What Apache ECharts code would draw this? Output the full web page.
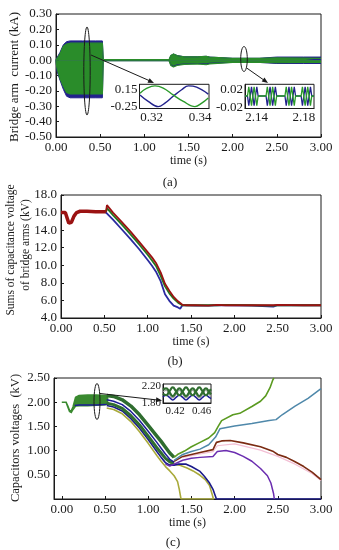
<!DOCTYPE html>
<html><head><meta charset="utf-8">
<script src="https://cdn.jsdelivr.net/npm/echarts@6/dist/echarts.min.js"></script>
<style>html,body{margin:0;padding:0;background:#fff}#c{width:339px;height:550px}</style>
</head><body><div id="c"></div>
<script>
// ---------- Panel (a): bridge arm current envelopes ----------
const aTime      = [0, 0.01, 0.045, 0.083, 0.12, 0.16, 0.3, 0.45, 0.525, 0.535, 1.28, 1.3, 1.33, 1.37, 1.45, 1.6, 1.7, 1.72, 1.74, 1.76, 2.0, 2.3, 2.5, 2.8, 3.0];
const aGreenTop  = [0, 0.01, 0.04, 0.09, 0.105, 0.11, 0.11, 0.11, 0.11, 0.004, 0.004, 0.03, 0.04, 0.03, 0.022, 0.022, 0.025, 0.035, 0.02, 0.012, 0.012, 0.012, 0.014, 0.013, 0.012];
const aGreenBot  = [0, -0.05, -0.12, -0.17, -0.21, -0.22, -0.22, -0.22, -0.22, -0.004, -0.004, -0.035, -0.045, -0.035, -0.028, -0.025, -0.03, -0.04, -0.025, -0.015, -0.015, -0.015, -0.017, -0.015, -0.015];
const aBlueTop   = [0, 0.015, 0.05, 0.10, 0.12, 0.125, 0.125, 0.125, 0.125, 0.004, 0.004, 0.03, 0.04, 0.03, 0.022, 0.022, 0.025, 0.03, 0.02, 0.012, 0.012, 0.012, 0.02, 0.02, 0.02];
const aBlueBot   = [0, -0.07, -0.13, -0.19, -0.235, -0.245, -0.245, -0.245, -0.245, -0.004, -0.004, -0.03, -0.04, -0.03, -0.025, -0.022, -0.025, -0.03, -0.02, -0.015, -0.015, -0.015, -0.022, -0.022, -0.022];
const aXTicks    = [0, 0.5, 1, 1.5, 2, 2.5, 3];

// inset 1 of (a)
const a1GreenT = [0.3152, 0.3179, 0.3214, 0.3248, 0.3289, 0.3331, 0.3379, 0.3407, 0.3434];
const a1GreenV = [0.06, 0.17, 0.23, 0.18, 0.02, -0.13, -0.25, -0.17, -0.05];
const a1BlueT  = [0.3152, 0.3186, 0.3227, 0.3255, 0.3289, 0.3324, 0.3352, 0.3386, 0.3434];
const a1BlueV  = [0.02, -0.13, -0.25, -0.17, -0.01, 0.14, 0.23, 0.20, 0.04];
const a1XLabels = [0.32, 0.34];
const a1YLabels = [0.15, -0.25];

// inset 2 of (a)
const a2T = [2.1301,
  2.1322, 2.1333, 2.1356, 2.1378, 2.1401, 2.1412,
  2.1479, 2.1490, 2.1513, 2.1535, 2.1558, 2.1569,
  2.1639, 2.1650, 2.1673, 2.1695, 2.1718, 2.1729,
  2.1776, 2.1787, 2.1810, 2.1832, 2.1855, 2.1866,
  2.1885];
const a2GreenV = [0.0056,
  0.0056, 0.026, -0.016, 0.026, -0.016, 0.0056,
  0.0056, 0.026, -0.016, 0.026, -0.016, 0.0056,
  0.0056, 0.026, -0.016, 0.026, -0.016, 0.0056,
  0.0056, 0.026, -0.016, 0.026, -0.016, 0.0056,
  0.0056];
const a2BlueV = [0.0056,
  0.0056, -0.016, 0.026, -0.016, 0.026, 0.0056,
  0.0056, -0.016, 0.026, -0.016, 0.026, 0.0056,
  0.0056, -0.016, 0.026, -0.016, 0.026, 0.0056,
  0.0056, -0.016, 0.026, -0.016, 0.026, 0.0056,
  0.0056];
const a2XLabels = [2.14, 2.18];
const a2YLabels = [0.02, -0.02];

// ---------- Panel (b): sums of capacitor voltages ----------
const bEarlyT = [0, 0.05, 0.07, 0.09, 0.1, 0.12, 0.15, 0.18, 0.22, 0.3, 0.4, 0.5, 0.53];
const bEarlyV = [16.0, 16.0, 15.4, 14.8, 14.7, 14.9, 15.6, 16.0, 16.15, 16.15, 16.1, 16.1, 16.1];
const bT     = [0.52, 0.53, 0.6, 0.7, 0.8, 0.9, 1.0, 1.05, 1.1, 1.15, 1.2, 1.25, 1.3, 1.35, 1.375, 1.4, 1.45, 1.55, 1.7, 1.8, 1.9, 2.2, 2.45, 2.5, 2.8, 3.0];
const bRed   = [16.1, 16.85, 16.0, 14.95, 13.85, 12.7, 11.5, 10.9, 10.2, 9.2, 7.9, 7.1, 6.4, 5.9, 5.7, 5.5, 5.45, 5.45, 5.4, 5.5, 5.45, 5.45, 5.45, 5.5, 5.45, 5.45];
const bGreen = [16.1, 16.5, 15.7, 14.65, 13.55, 12.4, 11.2, 10.55, 9.85, 8.8, 7.6, 6.8, 6.2, 5.75, 5.6, 5.45, 5.45, 5.45, 5.45, 5.45, 5.5, 5.45, 5.4, 5.45, 5.45, 5.45];
const bBlue  = [16.0, 16.05, 15.2, 14.1, 13.0, 11.85, 10.6, 9.95, 9.2, 8.2, 6.7, 5.95, 5.4, 5.2, 5.05, 5.45, 5.45, 5.4, 5.4, 5.45, 5.45, 5.4, 5.3, 5.45, 5.45, 5.45];

// ---------- Panel (c): capacitor voltages ----------
const cBandT  = [0, 0.05, 0.07, 0.09, 0.11, 0.13, 0.16, 0.2, 0.3, 0.4, 0.5, 0.53];
const cBandHi = [2.0, 2.0, 1.92, 1.83, 1.82, 1.9, 2.1, 2.14, 2.15, 2.15, 2.14, 2.13];
const cBandLo = [2.0, 2.0, 1.9, 1.81, 1.79, 1.85, 1.92, 1.93, 1.93, 1.94, 1.95, 1.96];
const cBlueEarlyT = [0.15, 0.2, 0.3, 0.4, 0.5, 0.53];
const cBlueEarlyV = [1.93, 1.94, 1.94, 1.94, 1.95, 1.96];

const cBundleT = [0.52, 0.6, 0.7, 0.8, 0.9, 1.0, 1.1, 1.15, 1.2, 1.25, 1.3];
const cGreen1  = [2.14, 2.12, 2.05, 1.92, 1.74, 1.52, 1.30, 1.19, 1.07, 0.95, 0.86];
const cBlue1   = [2.05, 2.02, 1.95, 1.81, 1.62, 1.40, 1.17, 1.05, 0.93, 0.82, 0.76];
const cGreen2  = [1.98, 1.95, 1.87, 1.72, 1.53, 1.30, 1.06, 0.95, 0.84, 0.77, 0.74];

const cNavyT   = [0.52, 0.6, 0.7, 0.8, 0.9, 1.0, 1.1, 1.15, 1.2, 1.25, 1.3, 1.35, 1.44, 1.5, 1.6, 1.65, 1.71, 1.75, 1.77, 1.79, 3.0];
const cNavyV   = [1.93, 1.90, 1.82, 1.66, 1.46, 1.23, 0.98, 0.86, 0.75, 0.70, 0.70, 0.72, 0.72, 0.67, 0.57, 0.47, 0.33, 0.2, 0.1, 0, 0];
const cOliveT  = [0.52, 0.6, 0.7, 0.8, 0.9, 1.0, 1.1, 1.15, 1.2, 1.25, 1.3, 1.34, 1.36, 1.38, 1.76];
const cOliveV  = [1.88, 1.85, 1.76, 1.60, 1.39, 1.15, 0.90, 0.78, 0.67, 0.58, 0.48, 0.36, 0.2, 0, 0];
const cOlive2T = [1.25, 1.3, 1.36, 1.45, 1.52, 1.6, 1.66, 1.71, 1.74, 1.755];
const cOlive2V = [0.72, 0.72, 0.7, 0.64, 0.58, 0.49, 0.4, 0.28, 0.1, 0];

const cRiseT   = [1.3, 1.35, 1.42, 1.5, 1.6, 1.7, 1.77, 1.81, 1.85, 1.98, 2.06, 2.2, 2.3, 2.36, 2.41, 2.44, 2.455];
const cRiseV   = [0.86, 0.93, 0.99, 1.08, 1.17, 1.26, 1.37, 1.5, 1.62, 1.74, 1.77, 1.91, 2.02, 2.13, 2.3, 2.45, 2.5];
const cSteelT  = [1.3, 1.4, 1.5, 1.6, 1.7, 1.78, 1.83, 2.0, 2.2, 2.4, 2.48, 2.55, 2.7, 2.85, 3.0];
const cSteelV  = [0.80, 0.92, 0.98, 1.03, 1.12, 1.28, 1.45, 1.51, 1.56, 1.62, 1.64, 1.74, 1.92, 2.08, 2.28];
const cBrownT  = [1.3, 1.35, 1.4, 1.5, 1.6, 1.75, 1.79, 1.85, 1.95, 2.1, 2.3, 2.45, 2.5, 2.6, 2.7, 2.8, 2.9, 3.0];
const cBrownV  = [0.78, 0.83, 0.88, 0.92, 0.96, 1.02, 1.17, 1.2, 1.21, 1.16, 1.08, 0.98, 0.92, 0.86, 0.77, 0.67, 0.55, 0.4];
const cPurpleT = [1.2, 1.25, 1.3, 1.4, 1.5, 1.6, 1.75, 1.8, 1.9, 2.0, 2.1, 2.2, 2.3, 2.38, 2.42, 2.45, 2.46];
const cPurpleV = [0.72, 0.68, 0.72, 0.8, 0.84, 0.86, 0.88, 0.98, 1.0, 0.96, 0.88, 0.78, 0.63, 0.48, 0.33, 0.12, 0];
const cPinkT   = [1.4, 1.6, 1.75, 1.8, 2.0, 2.3, 2.5, 2.7, 2.9, 3.0];
const cPinkV   = [0.86, 0.93, 0.98, 1.1, 1.14, 1.01, 0.88, 0.72, 0.52, 0.38];
const cXTicks  = [0, 0.5, 1, 1.5, 2, 2.5, 3];
const cYTicks  = [0.5, 1, 1.5, 2, 2.5];

// inset of (c)
const ciT     = [0.4016, 0.4063, 0.4113, 0.4163, 0.4213, 0.4263, 0.4313, 0.4363, 0.4413, 0.4463, 0.4513, 0.4563, 0.4613, 0.4663, 0.4713, 0.474];
const ciGA    = [2.01, 1.98, 2.07, 2.16, 2.07, 1.98, 2.07, 2.16, 2.07, 1.98, 2.07, 2.16, 2.07, 1.98, 2.07, 2.12];
const ciGB    = [2.11, 2.14, 2.05, 1.96, 2.05, 2.14, 2.05, 1.96, 2.05, 2.14, 2.05, 1.96, 2.05, 2.14, 2.05, 2.0];
const ciGray  = [2.06, 2.09, 2.0, 1.92, 2.0, 2.09, 2.0, 1.92, 2.0, 2.09, 2.0, 1.92, 2.0, 2.09, 2.0, 1.96];
const ciBlue  = [1.94, 1.98, 1.93, 1.87, 1.93, 1.98, 1.93, 1.87, 1.93, 1.98, 1.93, 1.87, 1.93, 1.98, 1.93, 1.9];
const ciXLabels = [0.42, 0.46];
const ciYLabels = [2.2, 1.8];

// ---------- build ----------
const zip = (t, v) => t.map((x, i) => [x, v[i]]);
const SERIF = '"Liberation Serif", "Times New Roman", serif';
const INK = '#1a1a1a';

function mainX(gi, min, ticks) {
  return {
    gridIndex: gi, type: 'value', min: min, max: 3,
    axisLine: { onZero: false, lineStyle: { color: INK, width: 1 } },
    axisTick: { inside: true, length: 3, lineStyle: { color: INK }, customValues: ticks },
    axisLabel: { customValues: ticks, formatter: v => v.toFixed(2), fontFamily: SERIF, fontSize: 13, color: INK, margin: 4 },
    splitLine: { show: false },
    name: 'time (s)', nameLocation: 'middle', nameGap: 17,
    nameTextStyle: { fontFamily: SERIF, fontSize: 12, color: INK }
  };
}
function mainY(gi, min, max, interval, digits, extra) {
  const o = {
    gridIndex: gi, type: 'value', min: min, max: max, interval: interval,
    axisLine: { onZero: false, lineStyle: { color: INK, width: 1 } },
    axisTick: { inside: true, length: 3, lineStyle: { color: INK } },
    axisLabel: { formatter: v => v.toFixed(digits), fontFamily: SERIF, fontSize: 13, color: INK, margin: 4 },
    splitLine: { show: false }
  };
  if (extra) { o.axisLabel.customValues = extra; o.axisTick.customValues = extra; delete o.interval; }
  return o;
}
function insetX(gi, min, max, labels, fs) {
  return { gridIndex: gi, type: 'value', min: min, max: max,
    axisLine: { onZero: false, lineStyle: { color: INK } }, axisTick: { show: false },
    axisLabel: { customValues: labels, formatter: v => v.toFixed(2), fontFamily: SERIF, fontSize: fs, color: INK, margin: 3 },
    splitLine: { show: false } };
}
function insetY(gi, min, max, labels, fs) {
  return { gridIndex: gi, type: 'value', min: min, max: max,
    axisLine: { onZero: false, lineStyle: { color: INK } }, axisTick: { show: false },
    axisLabel: { customValues: labels, formatter: v => v.toFixed(2), fontFamily: SERIF, fontSize: fs, color: INK, margin: 2 },
    splitLine: { show: false } };
}
function line(xi, data, color, width, extra) {
  return Object.assign({ type: 'line', xAxisIndex: xi, yAxisIndex: xi, data: data, symbol: 'none',
    lineStyle: { color: color, width: width }, itemStyle: { color: color }, animation: false }, extra || {});
}

const GA = '#2a8c2a', BA = '#22228c', CG = '#3a8a30';
const series = [
  // (a) main: blue envelopes under green envelopes
  line(0, zip(aTime, aBlueTop), BA, 1, { areaStyle: { color: BA, opacity: 1 } }),
  line(0, zip(aTime, aBlueBot), BA, 1, { areaStyle: { color: BA, opacity: 1 } }),
  line(0, zip(aTime, aGreenTop), GA, 1.2, { areaStyle: { color: GA, opacity: 1 } }),
  line(0, zip(aTime, aGreenBot), GA, 1.2, { areaStyle: { color: GA, opacity: 1 } }),
  // (b)
  line(1, zip(bEarlyT, bEarlyV), '#9b1212', 3.5),
  line(1, zip(bT, bBlue), '#2a2aa0', 1.8),
  line(1, zip(bT, bGreen), '#1f7a1f', 1.8),
  line(1, zip(bT, bRed), '#9b1212', 1.8),
  // (c)
  line(2, zip(cPinkT, cPinkV), '#f3bfd4', 1.2),
  { type: 'custom', xAxisIndex: 2, yAxisIndex: 2, data: zip(cBandT, cBandHi), animation: false,
    renderItem: function (params, api) {
      if (params.dataIndex !== 0) return null;
      const up = cBandT.map((t, i) => api.coord([t, cBandHi[i]]));
      const dn = cBandT.map((t, i) => api.coord([t, cBandLo[i]])).reverse();
      return { type: 'polygon', shape: { points: up.concat(dn) }, style: { fill: CG, stroke: CG, lineWidth: 1.6 } };
    } },
  line(2, zip(cBlueEarlyT, cBlueEarlyV), '#1c1c96', 1.5),
  line(2, zip(cOliveT, cOliveV), '#a9aa3a', 1.6),
  line(2, zip(cOlive2T, cOlive2V), '#a9aa3a', 1.6),
  line(2, zip(cNavyT, cNavyV), '#1a1a8a', 1.6),
  line(2, zip(cBundleT, cGreen2), '#2f6d2f', 3),
  line(2, zip(cBundleT, cBlue1), '#1c1c96', 1.5),
  line(2, zip(cBundleT, cGreen1), '#2f6d2f', 3.5),
  line(2, zip(cPurpleT, cPurpleV), '#6b2db0', 1.5),
  line(2, zip(cBrownT, cBrownV), '#7b2b12', 1.6),
  line(2, zip(cSteelT, cSteelV), '#4f88aa', 1.5),
  line(2, zip(cRiseT, cRiseV), '#5a9a20', 1.6),
  // inset a1
  line(3, zip(a1BlueT, a1BlueV), BA, 1.4, { smooth: 0.4 }),
  line(3, zip(a1GreenT, a1GreenV), '#2a9a2a', 1.4, { smooth: 0.4 }),
  // inset a2
  line(4, zip(a2T, a2BlueV), BA, 1.3),
  line(4, zip(a2T, a2GreenV), '#2a9a2a', 1.3),
  // inset c
  line(5, zip(ciT, ciBlue), '#1c1c96', 1.5, { smooth: 0.5 }),
  line(5, zip(ciT, ciGray), '#9a9a9a', 1.2, { smooth: 0.5 }),
  line(5, zip(ciT, ciGB), '#2f6d2f', 2.2, { smooth: 0.5 }),
  line(5, zip(ciT, ciGA), '#2f6d2f', 2.2, { smooth: 0.5 })
];

const gridStyle = { show: true, borderColor: INK, borderWidth: 1, backgroundColor: 'transparent' };
const insetStyle = { show: true, borderColor: INK, borderWidth: 1, backgroundColor: '#fff' };

function txt(x, y, s, size, rot) {
  return { type: 'text', x: x, y: y, rotation: rot || 0, z: 100,
    style: { text: s, font: size + 'px ' + SERIF, fill: INK, align: 'center', verticalAlign: 'middle', textAlign: 'center', textVerticalAlign: 'middle' } };
}
function ell(cx, cy, rx, ry) {
  return { type: 'ellipse', z: 100, shape: { cx: cx, cy: cy, rx: rx, ry: ry }, style: { fill: 'none', stroke: INK, lineWidth: 1 } };
}
function seg(x1, y1, x2, y2) {
  return { type: 'line', z: 100, shape: { x1: x1, y1: y1, x2: x2, y2: y2 }, style: { stroke: INK, lineWidth: 1 } };
}
function head(pts) {
  return { type: 'polygon', z: 100, shape: { points: pts }, style: { fill: INK } };
}
const R = Math.PI / 2;

const option = {
  backgroundColor: '#fff',
  animation: false,
  grid: [
    Object.assign({ left: 56, top: 14, width: 265, height: 123 }, gridStyle),
    Object.assign({ left: 61, top: 195, width: 260, height: 123 }, gridStyle),
    Object.assign({ left: 54, top: 378, width: 267, height: 121 }, gridStyle),
    Object.assign({ left: 139.5, top: 84.3, width: 69.5, height: 24.2 }, insetStyle),
    Object.assign({ left: 245, top: 84.3, width: 69, height: 24.2 }, insetStyle),
    Object.assign({ left: 163, top: 384, width: 48, height: 19 }, insetStyle)
  ],
  xAxis: [
    mainX(0, 0, aXTicks),
    mainX(1, 0, aXTicks),
    mainX(2, -0.09, cXTicks),
    insetX(3, 0.315, 0.3437, a1XLabels, 13),
    insetX(4, 2.1301, 2.1885, a2XLabels, 13),
    insetX(5, 0.4016, 0.474, ciXLabels, 11)
  ],
  yAxis: [
    mainY(0, -0.5, 0.3, 0.1, 2),
    mainY(1, 4, 18, 2, 1),
    mainY(2, 0, 2.5, 0.5, 2, cYTicks),
    insetY(3, -0.294, 0.266, a1YLabels, 13),
    insetY(4, -0.0222, 0.0316, a2YLabels, 13),
    insetY(5, 1.8, 2.24, ciYLabels, 11)
  ],
  series: series,
  graphic: { elements: [
    txt(15, 77, 'Bridge arm  current (kA)', 13, R),
    txt(11, 250, 'Sums of capacitance voltage', 11.5, R),
    txt(26, 245, 'of bridge arms (kV)', 11.5, R),
    txt(16, 438, 'Capacitors voltages  (kV)', 12.5, R),
    txt(170, 183, '(a)', 13),
    txt(175, 362, '(b)', 13),
    txt(173, 543, '(c)', 13),
    ell(87, 71, 3.2, 44),
    ell(244, 59, 3.3, 12.5),
    ell(97, 401.5, 3, 18),
    seg(91, 55, 149, 80.5),
    head([[154, 83], [147.5, 82.8], [149.6, 78.2]]),
    seg(246.7, 68, 263.5, 79.8),
    head([[268, 83], [261.7, 81.6], [264.5, 77.5]]),
    seg(100, 393.5, 156.5, 399.9),
    head([[162, 400.5], [155.8, 402.3], [156.3, 397.3]])
  ] }
};

const chart = echarts.init(document.getElementById('c'), null, { renderer: 'canvas' });
chart.setOption(option);
</script></body></html>
